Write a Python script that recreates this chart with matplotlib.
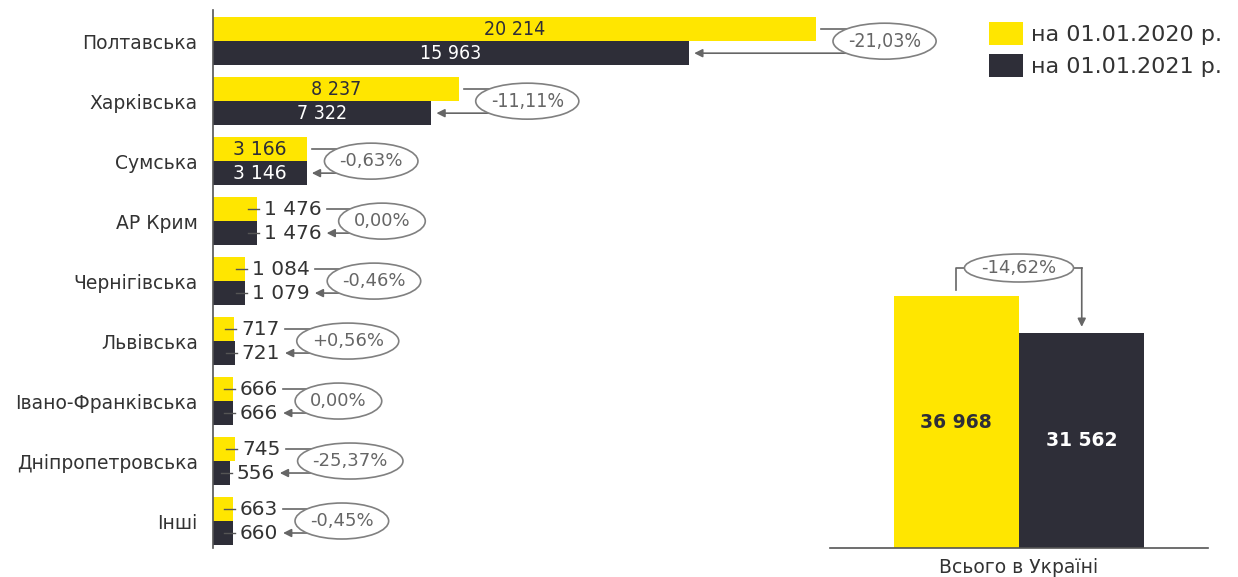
import matplotlib
matplotlib.use('Agg')
from matplotlib import pyplot as plt
from matplotlib import font_manager as fm
from matplotlib.patches import Ellipse, Patch

regions = ['Полтавська', 'Харківська', 'Сумська', 'АР Крим', 'Чернігівська',
           'Львівська', 'Івано-Франківська', 'Дніпропетровська', 'Інші']
v2020 = [20214, 8237, 3166, 1476, 1084, 717, 666, 745, 663]
v2021 = [15963, 7322, 3146, 1476, 1079, 721, 666, 556, 660]
changes = ['-21,03%', '-11,11%', '-0,63%', '0,00%', '-0,46%', '+0,56%', '0,00%', '-25,37%', '-0,45%']
total = [36968, 31562]
total_change = '-14,62%'
total_label = 'Всього в Україні'
legend_labels = ['на 01.01.2020 р.', 'на 01.01.2021 р.']

YELLOW = '#FFE600'
DARK = '#2E2E38'
TEXT = '#333333'
GRAY = '#666666'
EDGE = '#808080'

W, H = 1238, 577

names = {f.name for f in fm.fontManager.ttflist}
if 'DejaVu Sans Condensed' in names:
    NARROW = dict(family='DejaVu Sans Condensed')
elif 'Liberation Sans Narrow' in names:
    NARROW = dict(family='Liberation Sans Narrow')
else:
    NARROW = dict(family='DejaVu Sans', fontstretch='condensed')

plt.rcParams['font.family'] = 'DejaVu Sans'


def fmt(v):
    return f'{v:,}'.replace(',', ' ')


def right_edge(t, ax, r):
    bb = t.get_window_extent(r)
    return ax.transData.inverted().transform((bb.x1, bb.y0))[0]


fig = plt.figure(figsize=(W / 100, H / 100), dpi=100)

# ---- left panel: regions ----
ax = fig.add_axes([213 / W, 29 / H, 617 / W, 538 / H])
ax.patch.set_visible(False)
xmax = v2020[0] * 617 / 603
XPX = xmax / 617
YPX = 1 / 60
ys = list(range(len(regions)))

ax.barh([y - 0.2 for y in ys], v2020, height=0.4, color=YELLOW, zorder=2)
ax.barh([y + 0.2 for y in ys], v2021, height=0.4, color=DARK, zorder=2)
ax.set_xlim(0, xmax)
ax.set_ylim(8.45, -0.52)
ax.set_yticks(ys)
ax.set_yticklabels(regions, fontsize=13.5, color=TEXT)
ax.tick_params(axis='y', length=0, pad=11)
ax.set_xticks([])
for s in ['top', 'right', 'bottom']:
    ax.spines[s].set_visible(False)
ax.spines['left'].set_color('#555555')
ax.spines['left'].set_linewidth(1.2)

labels = []
for i in ys:
    narrow = v2020[i] > 5000
    row = []
    for val, yy, col in [(v2020[i], i - 0.2, DARK), (v2021[i], i + 0.2, 'white')]:
        if val > 2500:
            kw = NARROW if narrow else {}
            t = ax.text(val / 2, yy, fmt(val), ha='center', va='center', color=col,
                        fontsize=14 if narrow else 13.5, zorder=3, **kw)
            row.append((t, True, val))
        else:
            t = ax.text(val + 7 * XPX, yy, fmt(val), ha='left', va='center', color=TEXT,
                        fontsize=14.5, zorder=3)
            ax.plot([val - 9 * XPX, val + 2 * XPX], [yy, yy], color='#555555', lw=1, zorder=3)
            row.append((t, False, val))
    labels.append(row)

pct_texts = []
for i in ys:
    narrow = v2020[i] > 5000
    kw = NARROW if narrow else {}
    t = ax.text(0, i, changes[i], ha='center', va='center', color=GRAY,
                fontsize=14 if narrow else 13, zorder=6, clip_on=False, **kw)
    pct_texts.append(t)

fig.canvas.draw()
r = fig.canvas.get_renderer()

for i in ys:
    anchors = []
    for t, inside, val in labels[i]:
        anchors.append(val if inside else right_edge(t, ax, r))
    a_y, a_d = anchors
    tw = pct_texts[i].get_window_extent(r).width
    ell_w = tw + 30
    line_start = a_y + 5 * XPX
    cx = line_start + (12 + ell_w / 2) * XPX
    pct_texts[i].set_x(cx)
    ax.add_patch(Ellipse((cx, i), ell_w * XPX, 36 * YPX, facecolor='white', edgecolor=EDGE,
                         lw=1.2, zorder=5, clip_on=False))
    ax.plot([line_start, cx], [i - 0.2, i - 0.2], color=GRAY, lw=1.2, zorder=4, clip_on=False)
    ax.annotate('', xy=(a_d + 5 * XPX, i + 0.2), xytext=(cx, i + 0.2),
                arrowprops=dict(arrowstyle='-|>', color=GRAY, lw=1.2, mutation_scale=12,
                                shrinkA=0, shrinkB=0),
                zorder=4, annotation_clip=False)

# ---- right panel: total ----
ax2 = fig.add_axes([830 / W, 29 / H, 378 / W, 538 / H])
ax2.patch.set_visible(False)
ymax = 538 * total[0] / 252
YPX2 = ymax / 538
XPX2 = 3.012 / 378
ax2.bar([-0.5, 0.5], total, width=1, color=[YELLOW, DARK], zorder=2)
ax2.set_xlim(-1.506, 1.506)
ax2.set_ylim(0, ymax)
ax2.set_yticks([])
ax2.set_xticks([0])
ax2.set_xticklabels([total_label], fontsize=13.5, color=TEXT)
ax2.tick_params(axis='x', length=0, pad=7)
for s in ['top', 'right', 'left']:
    ax2.spines[s].set_visible(False)
ax2.spines['bottom'].set_color('#555555')
ax2.spines['bottom'].set_linewidth(1.2)

ax2.text(-0.5, total[0] / 2, fmt(total[0]), ha='center', va='center', color=DARK,
         fontsize=13.5, fontweight='bold', zorder=3)
ax2.text(0.5, total[1] / 2, fmt(total[1]), ha='center', va='center', color='white',
         fontsize=13.5, fontweight='bold', zorder=3)

y_br = 280 * YPX2
tt = ax2.text(0, y_br, total_change, ha='center', va='center', color=GRAY, fontsize=13,
              zorder=6, clip_on=False)
tw = tt.get_window_extent(r).width
ax2.add_patch(Ellipse((0, y_br), (tw + 34) * XPX2, 28 * YPX2, facecolor='white',
                      edgecolor=EDGE, lw=1.2, zorder=5, clip_on=False))
ax2.plot([-0.5, -0.5, 0.5, 0.5], [total[0] + 6 * YPX2, y_br, y_br, y_br],
         color=GRAY, lw=1.2, zorder=4, clip_on=False)
ax2.annotate('', xy=(0.5, total[1] + 6 * YPX2), xytext=(0.5, y_br),
             arrowprops=dict(arrowstyle='-|>', color=GRAY, lw=1.2, mutation_scale=12,
                             shrinkA=0, shrinkB=0),
             zorder=4, annotation_clip=False)

# ---- legend ----
fig.legend(handles=[Patch(facecolor=YELLOW), Patch(facecolor=DARK)], labels=legend_labels,
           loc='upper left', bbox_to_anchor=(989 / W, 1 - 22 / H), frameon=False,
           fontsize=16, handlelength=1.53, handleheight=1.2, handletextpad=0.35,
           labelspacing=0.4, borderaxespad=0, borderpad=0, labelcolor=TEXT)

plt.savefig('out.png', dpi=100)
